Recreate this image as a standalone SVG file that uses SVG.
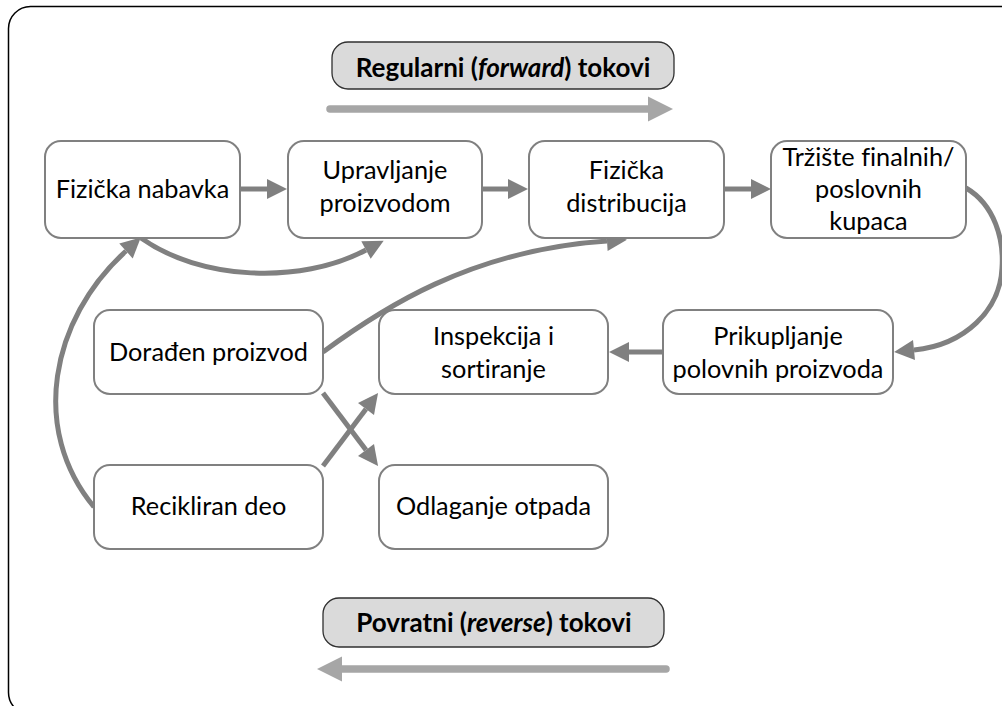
<svg xmlns="http://www.w3.org/2000/svg" width="1002" height="706" viewBox="0 0 1002 706">
  <style>
    text { font-variant-ligatures: none; }
    .node rect { fill: #ffffff; stroke: #808080; stroke-width: 2; }
    .node text { font-family: Lato, "Liberation Sans", sans-serif; font-size: 25.3px; fill: #000; text-anchor: middle; }
    .label rect { fill: #dadada; stroke: #303030; stroke-width: 1.3; }
    .label text { font-family: Lato, "Liberation Sans", sans-serif; font-size: 26px; font-weight: bold; fill: #000; text-anchor: middle; }
    .conn { fill: none; stroke: #808080; stroke-width: 5; marker-end: url(#head); }
    .flow { fill: none; stroke: #a6a6a6; stroke-width: 7.5; stroke-linecap: round; }
  </style>
  <defs>
    <marker id="head" markerUnits="userSpaceOnUse" markerWidth="24" markerHeight="24" refX="0" refY="10" orient="auto" overflow="visible">
      <path d="M0,0 L20,10 L0,20 Z" fill="#808080"/>
    </marker>
  </defs>

  <!-- outer frame -->
  <rect x="8.5" y="6.5" width="1020" height="708" rx="22" fill="#ffffff" stroke="#000" stroke-width="1.5"/>

  <!-- flow direction labels -->
  <g id="forward-label" class="label">
    <rect x="332" y="42" width="342" height="47" rx="16"/>
    <text x="503" y="77">Regularni (<tspan font-style="italic">forward</tspan>) tokovi</text>
  </g>
  <g id="forward-arrow">
    <line class="flow" x1="330" y1="109" x2="650" y2="109"/>
    <path d="M648,96.5 L673,109 L648,121.5 Z" fill="#a6a6a6"/>
  </g>
  <g id="reverse-label" class="label">
    <rect x="323" y="598" width="341" height="49" rx="16"/>
    <text x="494" y="632">Povratni (<tspan font-style="italic">reverse</tspan>) tokovi</text>
  </g>
  <g id="reverse-arrow">
    <line class="flow" x1="666" y1="669" x2="340" y2="669"/>
    <path d="M342,656.5 L317,669 L342,681.5 Z" fill="#a6a6a6"/>
  </g>

  <!-- connectors -->
  <g id="connectors">
    <path class="conn" d="M240,189 L267,189"/>
    <path class="conn" d="M482,189 L508,189"/>
    <path class="conn" d="M724,189 L751,189"/>
    <path class="conn" d="M966,188 C995,205 1004,240 1002,268 C1000,310 965,345 914,350"/>
    <path class="conn" d="M663,352 L629,352"/>
    <path class="conn" d="M94,507 C30,430 50,320 126,251"/>
    <path class="conn" d="M141,238 C200,280 300,285 366,250"/>
    <path class="conn" d="M323,352 C380,310 470,250 607,241"/>
    <path class="conn" d="M323,393 L366,450"/>
    <path class="conn" d="M323,466 L366,409"/>
  </g>

  <!-- process nodes -->
  <g id="fizicka-nabavka" class="node">
    <rect x="45" y="141" width="195" height="97" rx="16"/>
    <text x="142.5" y="198">Fizička nabavka</text>
  </g>
  <g id="upravljanje-proizvodom" class="node">
    <rect x="288" y="141" width="194" height="97" rx="16"/>
    <text x="385" y="179">Upravljanje</text>
    <text x="385" y="212">proizvodom</text>
  </g>
  <g id="fizicka-distribucija" class="node">
    <rect x="529" y="141" width="195" height="97" rx="16"/>
    <text x="626.5" y="179">Fizička</text>
    <text x="626.5" y="212">distribucija</text>
  </g>
  <g id="trziste" class="node">
    <rect x="771" y="141" width="195" height="97" rx="16"/>
    <text x="868.5" y="166">Tržište finalnih/</text>
    <text x="868.5" y="198">poslovnih</text>
    <text x="868.5" y="230">kupaca</text>
  </g>
  <g id="doradjen-proizvod" class="node">
    <rect x="94" y="310" width="229" height="84" rx="16"/>
    <text x="208.5" y="361">Dorađen proizvod</text>
  </g>
  <g id="inspekcija" class="node">
    <rect x="379" y="310" width="229" height="84" rx="16"/>
    <text x="493.5" y="345">Inspekcija i</text>
    <text x="493.5" y="378">sortiranje</text>
  </g>
  <g id="prikupljanje" class="node">
    <rect x="663" y="310" width="230" height="84" rx="16"/>
    <text x="778" y="345">Prikupljanje</text>
    <text x="778" y="378">polovnih proizvoda</text>
  </g>
  <g id="recikliran-deo" class="node">
    <rect x="94" y="465" width="229" height="84" rx="16"/>
    <text x="208.5" y="515">Recikliran deo</text>
  </g>
  <g id="odlaganje-otpada" class="node">
    <rect x="379" y="465" width="229" height="84" rx="16"/>
    <text x="493.5" y="515">Odlaganje otpada</text>
  </g>
</svg>
